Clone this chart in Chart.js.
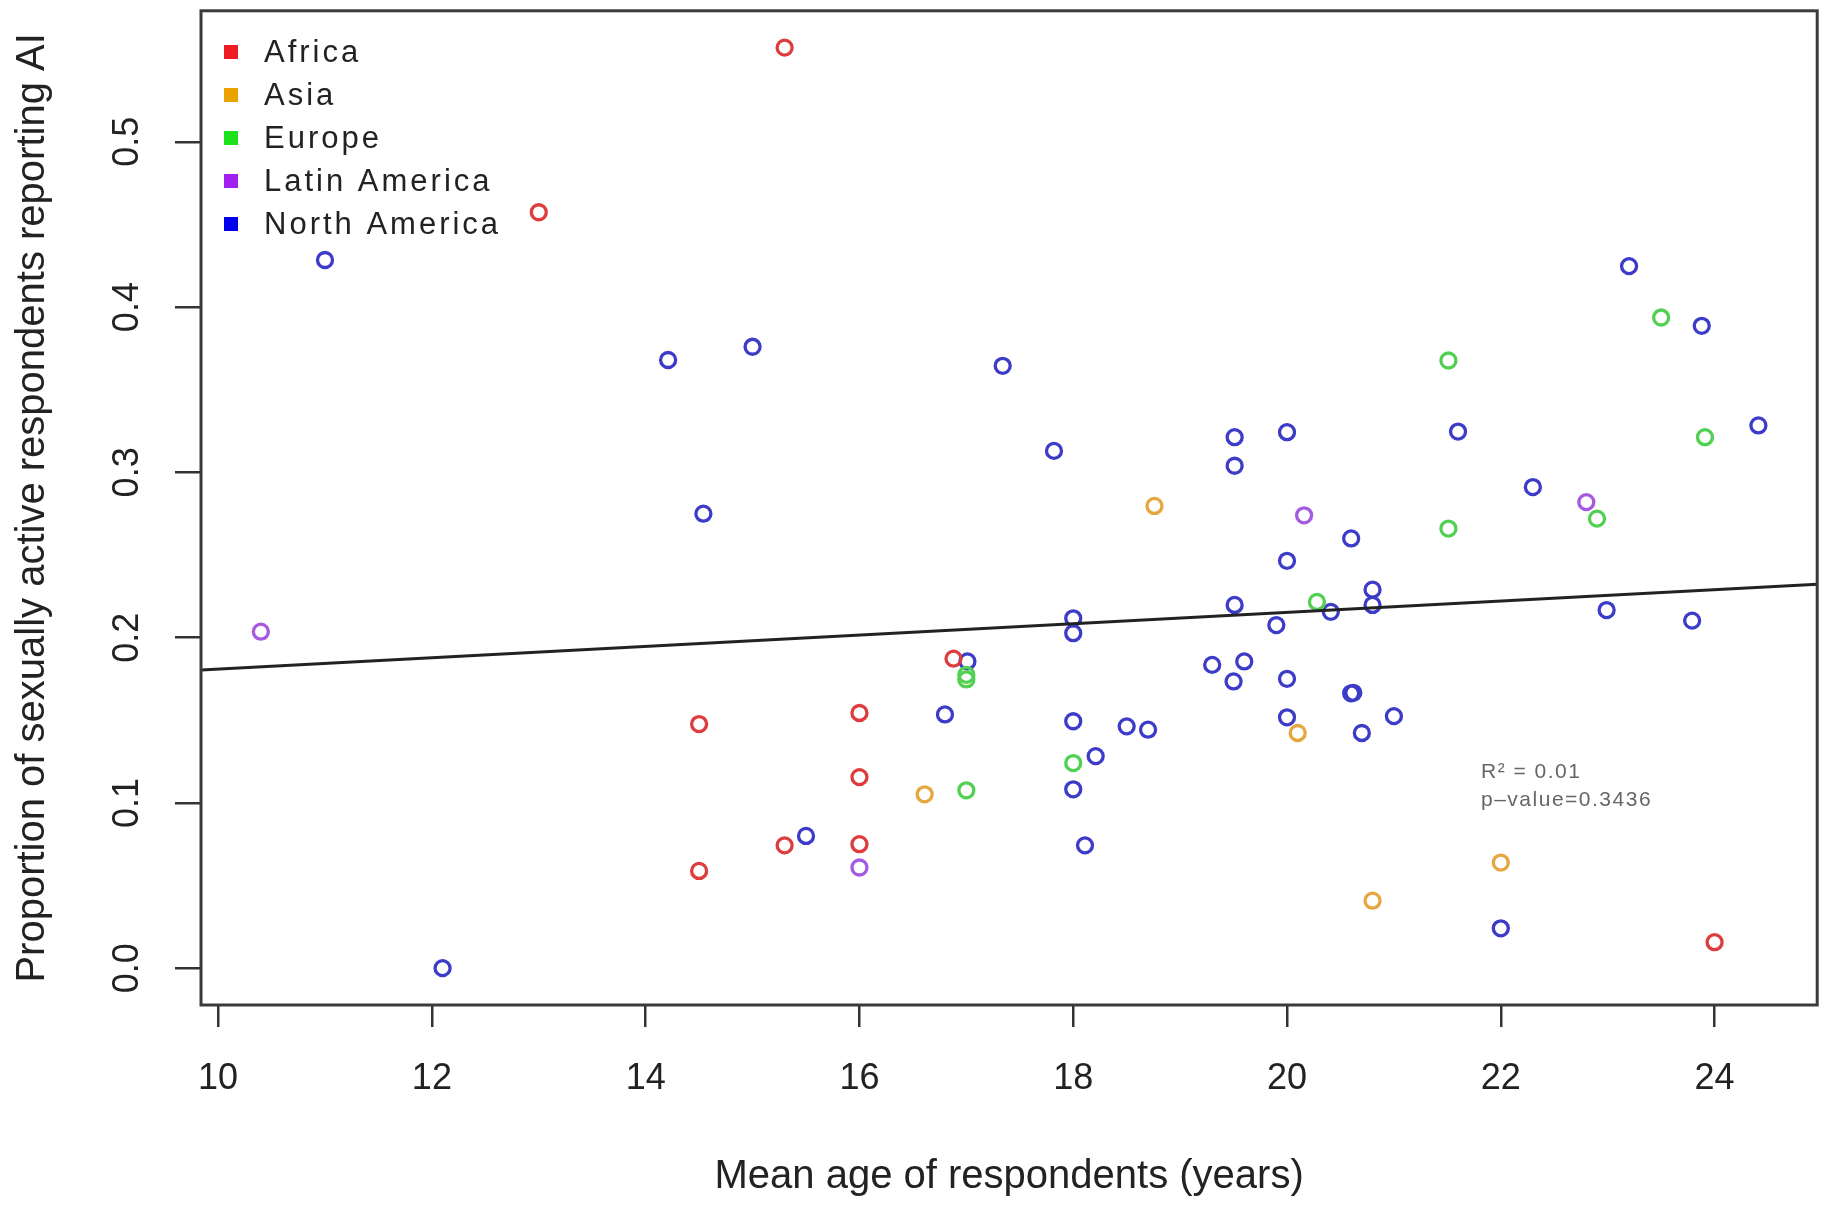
<!DOCTYPE html>
<html>
<head>
<meta charset="utf-8">
<script src="https://cdn.jsdelivr.net/npm/chart.js@4/dist/chart.umd.min.js"></script>
<style>
html,body{margin:0;padding:0;background:#ffffff;}
canvas{display:block;}
</style>
</head>
<body>
<canvas id="c" width="1828" height="1208"></canvas>
<script>
// ---------------- data ----------------
const regions = ['Africa', 'Asia', 'Europe', 'Latin America', 'North America'];

const africaAge  = [15.3, 13.0, 16.88, 14.5, 16.0, 16.0, 16.0, 15.3, 14.5, 24.0];
const africaProp = [0.557, 0.4574, 0.1873, 0.1477, 0.1544, 0.1156, 0.075, 0.0743, 0.0588, 0.0157];

const asiaAge  = [18.76, 16.61, 20.1, 22.0, 20.8];
const asiaProp = [0.2797, 0.1052, 0.1423, 0.0639, 0.0408];

const europeAge  = [21.51, 23.5, 23.91, 21.51, 22.9, 20.28, 17.0, 17.0, 17.0, 18.0];
const europeProp = [0.3677, 0.3937, 0.3213, 0.266, 0.272, 0.2216, 0.1747, 0.1775, 0.1076, 0.1241];

const latinAge  = [10.4, 20.16, 22.8, 16.0];
const latinProp = [0.2036, 0.274, 0.282, 0.0609];

const northAge  = [11.0, 14.21, 15.0, 14.54, 17.34, 17.82, 19.51, 19.51, 20.0, 21.6, 23.2, 23.88, 24.41,
                   22.3, 20.6, 20.0, 20.8, 20.8, 19.51, 20.41, 19.9, 22.99, 23.79, 18.0, 18.0, 17.01,
                   19.3, 19.6, 19.5, 20.0, 20.6, 20.62, 20.0, 20.7, 21.0, 16.8, 18.0, 18.5, 18.7,
                   18.21, 18.0, 18.11, 15.5, 12.1, 22.0];
const northProp = [0.4285, 0.368, 0.376, 0.275, 0.3645, 0.313, 0.3213, 0.304, 0.3243, 0.3247, 0.4248, 0.3887, 0.3284,
                   0.2911, 0.26, 0.2465, 0.229, 0.2198, 0.2198, 0.2156, 0.2076, 0.2167, 0.2103, 0.2117, 0.2027, 0.1856,
                   0.1835, 0.1856, 0.1735, 0.1751, 0.1663, 0.1666, 0.1518, 0.1423, 0.1525, 0.1535, 0.1494, 0.1463, 0.1443,
                   0.1283, 0.1082, 0.0743, 0.0800, 0.0, 0.0241];

// fitted regression line (end points as seen at the plot edges)
const fitAge  = [9.84, 24.96];
const fitProp = [0.1804, 0.2323];

const xTicks = [10, 12, 14, 16, 18, 20, 22, 24];
const yTicks = [0.0, 0.1, 0.2, 0.3, 0.4, 0.5];
const yTickLabels = ['0.0', '0.1', '0.2', '0.3', '0.4', '0.5'];
const statLines = ['R\u00B2 = 0.01', 'p\u2013value=0.3436'];

// ---------------- styling ----------------
const FONT = '"Liberation Sans", Arial, Helvetica, sans-serif';
const pointColors  = ['#dd3d3d', '#e6a640', '#52d052', '#a65ae0', '#3c3cc8'];
const legendColors = ['#ee1c24', '#eaa200', '#1ee11e', '#a020f0', '#0000ee'];

function pts(xs, ys) { return xs.map((x, i) => ({ x: x, y: ys[i] })); }
const seriesX = [africaAge, asiaAge, europeAge, latinAge, northAge];
const seriesY = [africaProp, asiaProp, europeProp, latinProp, northProp];

const datasets = regions.map((r, i) => ({
  type: 'scatter',
  label: r,
  data: pts(seriesX[i], seriesY[i]),
  pointStyle: 'circle',
  pointRadius: 7.5,
  pointHoverRadius: 7.5,
  borderWidth: 3.3,
  borderColor: pointColors[i],
  backgroundColor: 'rgba(0,0,0,0)',
  order: 1
}));
datasets.push({
  type: 'line',
  label: 'fit',
  data: pts(fitAge, fitProp),
  borderColor: '#222222',
  borderWidth: 3,
  pointRadius: 0,
  fill: false,
  order: 0
});

const overlay = {
  id: 'overlay',
  afterDatasetsDraw(chart) {
    const { ctx, chartArea: a } = chart;
    ctx.save();
    ctx.strokeStyle = '#3a3a3a';
    ctx.lineWidth = 3;
    ctx.strokeRect(a.left, a.top, a.right - a.left, a.bottom - a.top);
    ctx.restore();
  },
  afterDraw(chart) {
    const { ctx } = chart;
    const ys = chart.scales.y;
    // rotated y tick labels (R style)
    ctx.save();
    ctx.font = '36px ' + FONT;
    ctx.fillStyle = '#222222';
    ctx.textAlign = 'center';
    ctx.textBaseline = 'middle';
    yTicks.forEach((v, i) => {
      const py = ys.getPixelForValue(v);
      ctx.save();
      ctx.translate(128.5, py);
      ctx.rotate(-Math.PI / 2);
      ctx.fillText(yTickLabels[i], 0, 0);
      ctx.restore();
    });
    ctx.restore();

    // legend inside plot
    ctx.save();
    ctx.font = '31px ' + FONT;
    try { ctx.letterSpacing = '3px'; } catch (e) {}
    ctx.textAlign = 'left';
    ctx.textBaseline = 'middle';
    regions.forEach((r, i) => {
      const y = 52 + i * 43;
      ctx.fillStyle = legendColors[i];
      ctx.fillRect(224, y - 7, 14, 14);
      ctx.fillStyle = '#222222';
      ctx.fillText(r, 264, y + 1);
    });
    ctx.restore();

    // statistics text
    ctx.save();
    ctx.font = '21px ' + FONT;
    try { ctx.letterSpacing = '1.5px'; } catch (e) {}
    ctx.fillStyle = '#666666';
    ctx.textAlign = 'left';
    ctx.textBaseline = 'middle';
    statLines.forEach((t, i) => ctx.fillText(t, 1481, 772 + i * 28));
    ctx.restore();
  }
};

new Chart(document.getElementById('c'), {
  data: { datasets: datasets },
  options: {
    responsive: false,
    animation: false,
    devicePixelRatio: 1,
    layout: { padding: { left: 0, right: 6, top: 8, bottom: 0 } },
    plugins: { legend: { display: false }, tooltip: { enabled: false } },
    scales: {
      x: {
        type: 'linear',
        position: 'bottom',
        min: 9.84,
        max: 24.96,
        afterBuildTicks: s => { s.ticks = xTicks.map(v => ({ value: v })); },
        afterFit: s => { s.height = 203; },
        grid: { drawOnChartArea: false, drawTicks: true, tickLength: 22, color: '#333333', lineWidth: 2.5 },
        border: { display: false },
        ticks: { font: { family: FONT, size: 36 }, color: '#222222', padding: 30, maxRotation: 0, minRotation: 0, autoSkip: false,
                 callback: v => String(v) },
        title: { display: true, text: 'Mean age of respondents (years)', font: { family: FONT, size: 40 }, color: '#222222',
                 padding: { top: 0, bottom: 7 } }
      },
      y: {
        type: 'linear',
        position: 'left',
        min: -0.0223,
        max: 0.5793,
        afterBuildTicks: s => { s.ticks = yTicks.map(v => ({ value: v })); },
        afterFit: s => { s.width = 201; },
        grid: { drawOnChartArea: false, drawTicks: true, tickLength: 26, color: '#333333', lineWidth: 2.5 },
        border: { display: false },
        ticks: { display: false },
        title: { display: true, text: 'Proportion of sexually active respondents reporting AI', font: { family: FONT, size: 40 },
                 color: '#222222', padding: { top: 9, bottom: 0 } }
      }
    }
  },
  plugins: [overlay]
});
</script>
</body>
</html>
